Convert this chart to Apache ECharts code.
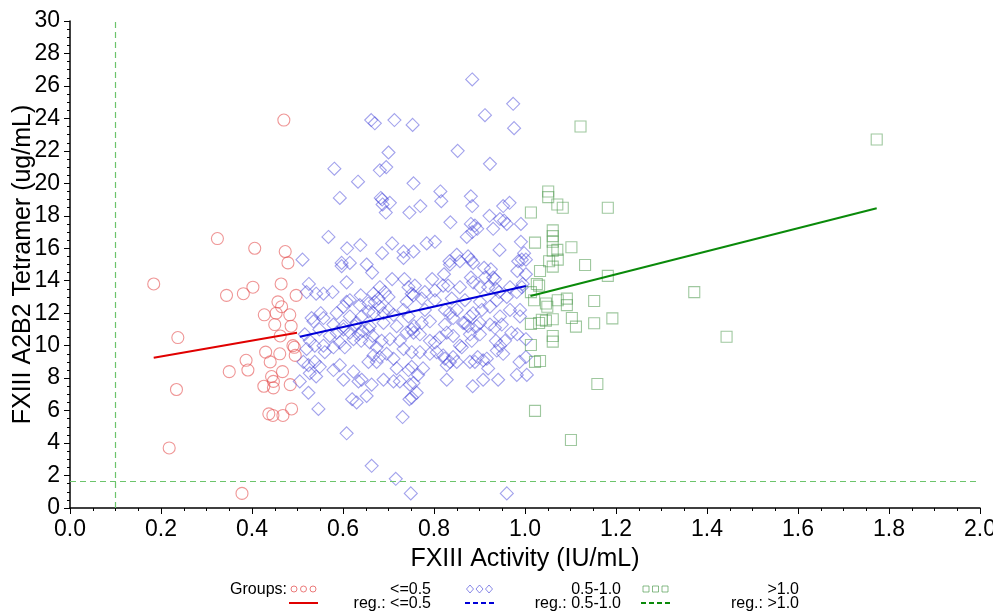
<!DOCTYPE html>
<html><head><meta charset="utf-8">
<script src="https://cdn.jsdelivr.net/npm/echarts@6/dist/echarts.min.js"></script>
<style>html,body{margin:0;padding:0;background:#fff;}#c{width:993px;height:612px;}</style>
</head><body><div id="c"></div>
<script>
const xTickValues = [0, 0.2, 0.4, 0.6, 0.8, 1.0, 1.2, 1.4, 1.6, 1.8, 2.0];
const yTickValues = [0, 2, 4, 6, 8, 10, 12, 14, 16, 18, 20, 22, 24, 26, 28, 30];
const refX = [0.1];
const refY = [1.65];
const groupNames = ['<=0.5', '0.5-1.0', '>1.0'];
const regNames = ['reg.: <=0.5', 'reg.: 0.5-1.0', 'reg.: >1.0'];

const groupLow = [
[0.184,13.8],[0.218,3.7],[0.234,7.3],[0.237,10.5],[0.324,16.6],[0.344,13.1],[0.35,8.4],[0.381,13.2],[0.387,9.1],[0.391,8.5],
[0.378,0.9],[0.402,13.6],[0.406,16.0],[0.427,11.9],[0.43,9.6],[0.426,7.5],[0.44,9.0],[0.45,11.3],[0.457,12.7],[0.465,12.4],
[0.453,12.0],[0.464,13.8],[0.47,23.9],[0.473,15.8],[0.479,15.1],[0.461,9.5],[0.462,10.6],[0.467,8.4],[0.483,11.9],[0.486,11.2],
[0.497,13.1],[0.49,10.0],[0.495,9.4],[0.493,9.9],[0.484,7.6],[0.487,6.1],[0.443,8.1],[0.447,7.8],[0.447,7.4],[0.437,5.8],
[0.446,5.7],[0.468,5.7]
];

const groupMid = [
[0.884,26.4],[0.974,24.9],[0.912,24.2],[0.976,23.4],[0.662,23.9],[0.670,23.7],[0.713,23.9],[0.753,23.6],[0.700,21.9],[0.852,22.0],
[0.923,21.2],[0.581,20.9],[0.681,20.8],[0.695,21.0],[0.633,20.1],[0.755,20.0],[0.593,19.1],[0.683,19.1],[0.686,19.0],[0.687,18.7],
[0.703,18.8],[0.814,19.5],[0.816,18.9],[0.770,18.6],[0.881,19.2],[0.884,18.6],[0.952,18.6],[0.966,18.8],[0.694,18.2],[0.746,18.2],
[0.836,17.6],[0.881,17.5],[0.890,17.4],[0.895,17.2],[0.884,17.0],[0.872,16.7],[0.922,18.0],[0.930,17.2],[0.945,17.8],[0.954,17.7],
[0.960,17.5],[0.991,17.5],[0.568,16.7],[0.609,16.0],[0.638,16.2],[0.708,16.3],[0.784,16.3],[0.802,16.4],[0.991,16.4],[0.944,15.9],
[0.998,15.7],[1.002,15.3],[0.993,15.3],
[0.511,15.3],[0.597,15.1],[0.615,15.1],[0.652,15.0],[0.686,15.7],[0.733,15.8],[0.755,15.8],[0.733,15.4],[0.597,14.9],[0.664,14.5],
[0.834,15.2],[0.857,15.2],[0.881,15.3],[0.886,15.1],[0.850,15.6],[0.835,15.0],[0.875,15.5],[0.910,14.8],[0.925,14.7],[0.930,14.2],
[0.881,14.2],[0.822,14.4],[0.983,14.6],[1.002,14.4],[0.985,15.2],[0.608,13.9],[0.708,14.1],[0.735,14.1],[0.796,14.1],[0.934,14.1],
[0.912,14.2],
[0.525,13.8],[0.520,13.3],[0.541,13.2],[0.557,13.2],[0.577,13.3],[0.639,13.1],[0.667,13.2],[0.681,13.6],[0.692,13.3],[0.700,13.0],
[0.678,12.9],[0.744,13.6],[0.751,13.2],[0.740,12.7],[0.608,12.7],[0.615,12.8],[0.601,12.4],[0.637,12.5],[0.656,12.6],[0.670,12.7],
[0.681,12.4],[0.551,12.0],[0.586,12.0],[0.641,11.8],[0.656,12.1],[0.667,12.0],[0.689,12.0],[0.700,12.2],[0.711,11.9],[0.733,12.2],
[0.744,11.8],[0.615,11.8],
[0.995,13.8],[0.901,13.6],[0.919,13.6],[0.831,13.7],[0.820,13.7],[0.943,13.3],[0.967,13.6],[0.982,13.3],[0.758,13.7],[0.780,13.3],
[0.802,13.4],[0.773,12.9],[0.755,13.1],[0.802,12.8],[0.839,12.9],[0.868,12.8],[0.901,12.7],[0.938,12.8],[0.960,13.0],[0.780,12.2],
[0.824,12.2],[0.850,12.2],[0.905,12.2],[0.923,12.4],[0.967,12.2],[0.857,13.6],[0.886,13.9],[0.936,13.5],[0.993,13.6],[0.886,12.0],
[0.989,12.2],
[0.835,12.0],[0.879,11.8],[0.945,11.8],[0.989,11.8],[0.791,11.5],[0.864,11.4],[0.923,11.3],[0.949,11.3],[0.756,11.2],[0.531,11.7],
[0.557,11.7],[0.579,11.3],[0.601,11.2],[0.630,11.4],[0.659,11.2],[0.689,11.4],[0.718,11.2],[0.535,11.5],[0.548,11.0],[0.516,10.7],
[0.527,10.3],[0.520,9.8],[0.538,10.0],[0.557,10.0],[0.560,9.6],[0.571,10.6],[0.579,9.9],[0.593,10.2],[0.604,9.9],[0.586,10.8],
[0.601,11.0],[0.615,10.8],[0.626,11.2],[0.634,10.7],[0.643,10.9],[0.656,11.0],[0.665,10.6],[0.623,10.4],[0.640,10.3],[0.659,10.2],
[0.674,9.9],[0.685,10.3],[0.703,10.4],[0.725,10.3],[0.740,10.8],[0.751,11.0],[0.733,9.8],[0.751,9.6],[0.773,11.4],[0.755,10.8],
[0.769,10.7],[0.791,10.3],[0.802,10.2],[0.813,10.5],[0.828,10.8],[0.842,10.6],[0.857,10.0],[0.842,11.7],[0.824,11.3],[0.901,11.4],
[0.868,11.4],[0.934,11.1],[0.970,10.8],[0.983,10.7],[1.002,10.4],[0.936,10.3],[0.883,10.3],[0.861,9.9],[0.875,11.2],[0.894,11.2],
[0.879,10.7],[0.901,10.7],[0.945,10.0],[0.956,10.3],[0.938,9.7],[0.952,9.5],
[0.667,9.4],[0.681,9.3],[0.696,9.5],[0.711,9.2],[0.674,9.0],[0.656,9.0],[0.718,8.6],[0.744,8.5],[0.513,9.0],[0.524,8.8],
[0.538,9.0],[0.549,8.7],[0.527,8.3],[0.505,7.8],[0.541,8.1],[0.579,8.5],[0.593,8.8],[0.601,7.9],[0.623,8.4],[0.641,7.9],
[0.663,7.6],[0.634,7.8],[0.711,7.8],[0.725,7.8],[0.689,7.9],[0.747,7.6],[0.820,9.4],[0.824,9.2],[0.835,9.0],[0.850,9.0],
[0.769,9.6],[0.751,8.7],[0.776,8.6],[0.765,8.2],[0.755,7.7],[0.828,7.9],[0.885,7.5],[0.908,7.9],[0.941,7.9],[0.982,8.2],
[1.004,8.2],[0.988,9.0],[1.002,9.3],[0.919,8.6],[0.908,9.1],[0.890,9.0],[0.828,8.8],[0.842,9.3],[0.879,9.0],[0.896,9.3],
[0.916,9.2],[0.791,9.5],[0.806,9.6],
[0.524,7.1],[0.620,6.7],[0.630,6.5],[0.652,6.9],[0.746,6.7],[0.546,6.1],[0.731,5.6],[0.608,4.6],[0.663,2.6],[0.716,1.8],
[0.749,0.9],[0.960,0.9],[0.762,7.1],[0.751,6.8]
];

const groupHigh = [
[1.122,23.5],[1.773,22.7],[1.051,19.5],[1.051,19.15],[1.071,18.7],[1.083,18.5],[1.013,18.2],[1.182,18.5],[1.061,17.1],[1.061,16.75],
[1.022,16.35],[1.061,16.4],[1.102,16.06],[1.061,15.85],[1.071,15.9],[1.053,15.2],[1.072,15.3],[1.061,14.87],[1.033,14.6],[1.132,14.97],
[1.182,14.3],[1.026,13.8],[1.031,13.7],[1.013,13.3],[1.02,12.8],[1.046,12.6],[1.049,12.4],[1.072,12.8],[1.092,12.9],[1.092,12.5],
[1.152,12.75],[1.372,13.3],[1.037,11.6],[1.046,11.54],[1.061,11.63],[1.013,11.34],[1.031,11.4],[1.103,11.7],[1.112,11.17],[1.152,11.38],
[1.192,11.68],[1.061,10.6],[1.061,10.25],[1.013,10.04],[1.022,9.0],[1.033,9.06],[1.443,10.55],[1.159,7.64],[1.022,5.98],[1.101,4.19]
];

const regLow = [[0.184, 9.25], [0.499, 10.8]];
const regMid = [[0.505, 10.55], [1.002, 13.68]];
const regHigh = [[1.012, 13.06], [1.773, 18.46]];

const FONT = '"Liberation Sans", Arial, sans-serif';
const cRedM = 'rgba(228,80,80,0.75)', cBlueM = 'rgba(60,60,215,0.6)', cGreenM = 'rgba(70,150,70,0.65)';
const cRedL = '#e00000', cBlueL = '#0000d8', cGreenL = '#0a8a0a';

const chart = echarts.init(document.getElementById('c'), null, {renderer: 'canvas'});

function axisCommon(name, gap, fmt) {
  return {
    type: 'value', offset: 3, name: name, nameLocation: 'middle', nameGap: gap, nameMoveOverlap: false,
    nameTextStyle: {fontFamily: FONT, fontSize: 25, color: '#000'},
    axisLine: {show: true, lineStyle: {color: '#000', width: 1.5}},
    axisTick: {show: true, length: 6, lineStyle: {color: '#000', width: 1}},
    minorTick: {show: true, splitNumber: 4, length: 3, lineStyle: {color: '#000', width: 1}},
    splitLine: {show: false},
    axisLabel: {fontFamily: FONT, fontSize: 23, color: '#000', margin: 7, formatter: fmt}
  };
}

const xAx = axisCommon('FXIII Activity (IU/mL)', 36, v => v.toFixed(1));
Object.assign(xAx, {min: xTickValues[0], max: xTickValues[xTickValues.length - 1], interval: 0.2});
const yAx = axisCommon('FXIII A2B2 Tetramer (ug/mL)', 31, v => String(v));
Object.assign(yAx, {min: yTickValues[0], max: yTickValues[yTickValues.length - 1], interval: 2});

function scatter(data, symbol, size, color) {
  return {type: 'scatter', data: data, symbol: symbol, symbolSize: size, silent: true,
    itemStyle: {color: 'rgba(0,0,0,0)', borderColor: color, borderWidth: 1.1}};
}
function regLine(data, color, extra) {
  const s = {type: 'line', data: data, showSymbol: false, symbol: 'none', silent: true,
    lineStyle: {color: color, width: 2}};
  return Object.assign(s, extra || {});
}

// legend (graphic)
const L1 = 590, L2 = 604;
const lt = (text, x, y) => ({type: 'text', x: x, y: y, style: {text: text, font: '16px ' + FONT, fill: '#000',
  align: 'right', verticalAlign: 'middle', textAlign: 'right', textVerticalAlign: 'middle'}});
const legendX = [[289, 431], [465, 621], [641, 799]];
const legendGraphics = [lt('Groups:', 287, L1)];
const mColors = [cRedM, cBlueM, cGreenM];
const lColors = [cRedL, cBlueL, cGreenL];
legendX.forEach((p, i) => {
  for (let k = 0; k < 3; k++) {
    const cx = p[0] + 5 + k * 9.5;
    if (i === 0) legendGraphics.push({type: 'circle', shape: {cx: cx, cy: L1 - 1, r: 3}, style: {fill: 'none', stroke: mColors[i], lineWidth: 1}});
    if (i === 1) legendGraphics.push({type: 'polygon', shape: {points: [[cx, L1 - 5], [cx + 3.5, L1 - 1], [cx, L1 + 3], [cx - 3.5, L1 - 1]]}, style: {fill: 'none', stroke: mColors[i], lineWidth: 1}});
    if (i === 2) legendGraphics.push({type: 'rect', shape: {x: cx - 3, y: L1 - 4, width: 6, height: 6}, style: {fill: 'none', stroke: mColors[i], lineWidth: 1}});
  }
  legendGraphics.push(lt(groupNames[i], p[1], L1));
  legendGraphics.push({type: 'line', shape: {x1: p[0], y1: L2 - 1, x2: p[0] + 29, y2: L2 - 1},
    style: {stroke: lColors[i], lineWidth: 2, lineDash: i === 0 ? null : [5, 3]}});
  legendGraphics.push(lt(regNames[i], p[1], L2));
});

chart.setOption({
  animation: false,
  backgroundColor: '#fff',
  grid: {left: 70, right: 13, top: 21, bottom: 104, containLabel: false, outerBoundsMode: 'none'},
  xAxis: xAx,
  yAxis: yAx,
  graphic: legendGraphics,
  series: [
    scatter(groupLow, 'circle', 12, cRedM),
    scatter(groupMid, 'diamond', [13, 13], cBlueM),
    scatter(groupHigh, 'rect', 11, cGreenM),
    regLine(regLow, cRedL),
    regLine(regMid, cBlueL),
    regLine(regHigh, cGreenL),
    {type: 'line', data: [], silent: true,
      markLine: {silent: true, symbol: ['none', 'none'], label: {show: false}, animation: false,
        lineStyle: {color: '#6cc46c', width: 1.2, type: [6, 4], opacity: 1},
        emphasis: {disabled: true},
        data: refX.map(v => ({xAxis: v, lineStyle: {color: '#6cc46c'}})).concat(refY.map(v => ({yAxis: v, lineStyle: {color: '#6cc46c'}})))}
    }
  ]
});
</script></body></html>
